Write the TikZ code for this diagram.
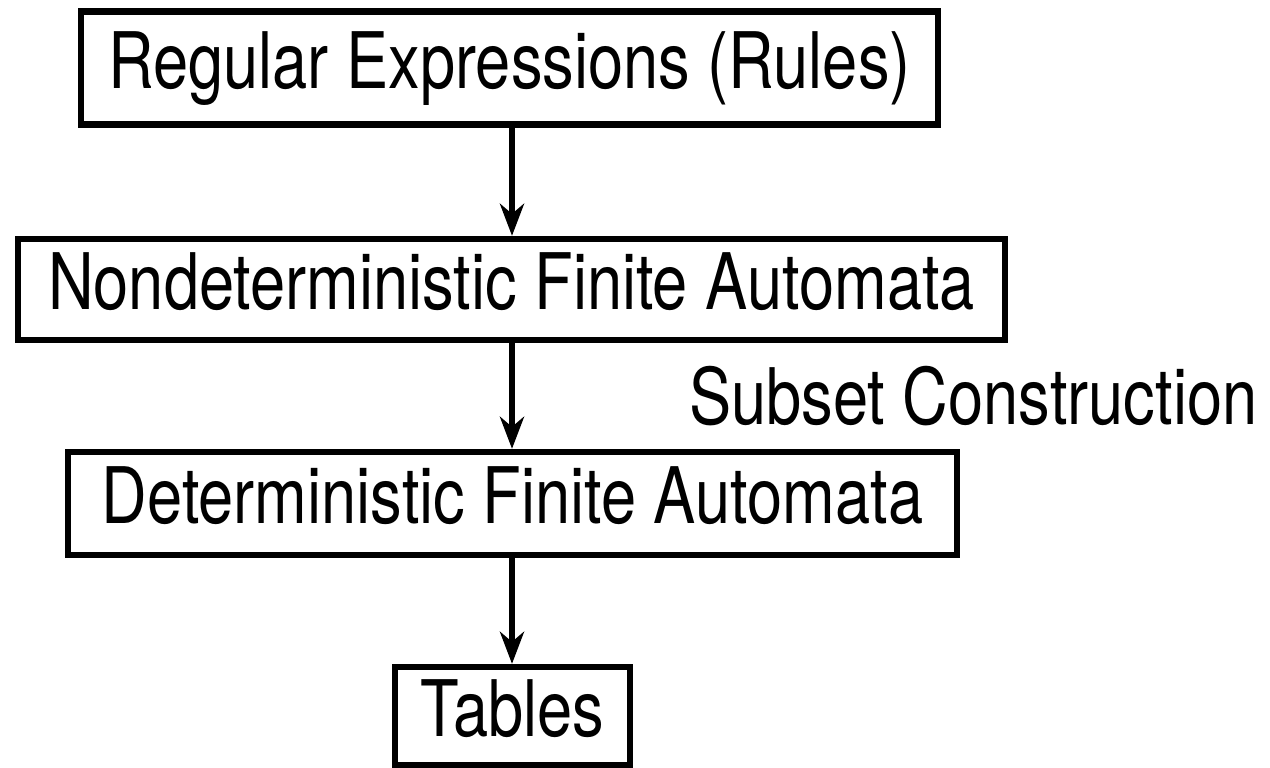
\documentclass[tikz,border=0pt]{standalone}
\usepackage{fontspec}
\setmainfont{TeX Gyre Heros}[FakeStretch=0.81]
\usetikzlibrary{arrows.meta}
\begin{document}
\begin{tikzpicture}
[   box/.style={draw=black,line width=1.8pt,inner sep=0pt,text height=1.15em,text depth=0pt,
                font=\fontsize{22.2}{26}\selectfont},
    flow/.style={line width=1.8pt,-{Stealth[length=3.2mm,width=2.4mm,inset=1mm]}},
]
\useasboundingbox (0,0) rectangle (12.7,7.67);
\node[box, minimum width=8.57cm, minimum height=1.13cm] (R) at (5.095,6.99) {Regular Expressions (Rules)};
\node[box, minimum width=9.87cm, minimum height=1.01cm] (N) at (5.115,4.775) {Nondeterministic Finite Automata};
\node[box, minimum width=8.89cm, minimum height=1.03cm] (D) at (5.125,2.635) {Deterministic Finite Automata};
\node[box, minimum width=2.35cm, minimum height=0.98cm] (T) at (5.125,0.51) {Tables};


\draw[flow] (R.south -| 5.12,0) -- (N.north -| 5.12,0);
\draw[flow] (N.south -| 5.12,0) -- (D.north -| 5.12,0)
    node[midway, anchor=west, xshift=1.74cm, inner sep=0pt, font=\fontsize{22.2}{26}\selectfont] (S) {Subset Construction};
\draw[flow] (D.south -| 5.12,0) -- (T.north -| 5.12,0);

\end{tikzpicture}
\end{document}
